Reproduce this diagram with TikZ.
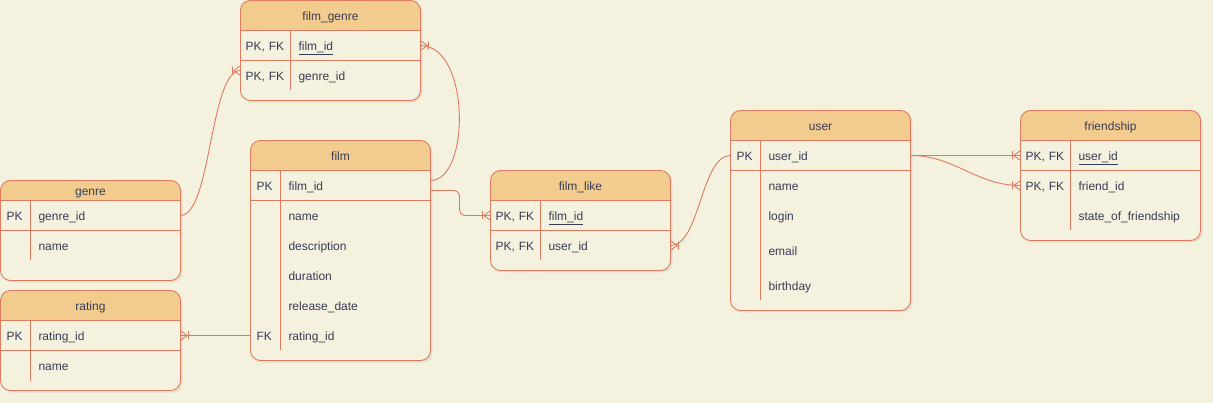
\documentclass[tikz,border=0pt]{standalone}
\usepackage{fontspec}
\setmainfont{Liberation Sans}
\usetikzlibrary{arrows.meta,positioning,shadows,decorations.markings}

\definecolor{paper}{HTML}{F4F1DE}
\definecolor{headfill}{HTML}{F2CC8F}
\definecolor{rust}{HTML}{E07A5F}
\definecolor{ink}{HTML}{393C56}

\begin{document}
\begin{tikzpicture}[
    x=1pt, y=-1pt,
    font=\fontsize{12pt}{14pt}\selectfont, text=ink,
    tbl/.style={draw=rust, fill=paper, line width=0.9pt, rounded corners=10pt,
      anchor=north west, minimum width=180pt, inner sep=0pt, outer sep=0pt,
      drop shadow={opacity=0.15, shadow xshift=2pt, shadow yshift=-2pt},
      path picture={
        \fill[headfill, sharp corners] (path picture bounding box.north west)
          rectangle ([yshift=-#1]path picture bounding box.north east);
        \draw[rust, line width=0.9pt, sharp corners]
          ([yshift=-#1]path picture bounding box.north west)
          -- ([yshift=-#1]path picture bounding box.north east);}},
    tbl/.default=30pt,
    title/.style={inner sep=0pt, text height=9.5pt, text depth=0pt},
    key/.style={anchor=north west, minimum height=30pt, text width=40pt,
      inner xsep=5pt, inner ysep=0pt, outer sep=0pt, align=left,
      text height=9.5pt, text depth=0pt},
    key short/.style={key, text width=18pt, inner xsep=6pt},
    field/.style={minimum height=30pt, text width=114pt,
      inner xsep=8pt, inner ysep=0pt, outer sep=0pt, align=left,
      text height=9.5pt, text depth=0pt},
    field long/.style={field, text width=134pt},
    grid/.style={draw=rust, line width=0.9pt},
    rel/.style={color=rust, line width=0.9pt, draw,
      postaction={decorate, decoration={markings, mark=at position 0.998 with
        {\arrow{Bar[width=8pt] Straight Barb[reversed, length=6pt, width=9pt]}}}}}
  ]
  \useasboundingbox (0,0) rectangle (1213,403);
  \fill[paper] (0,0) rectangle (1213,403);

  % film_genre
  \node[tbl, minimum height=100pt] (filmgenre) at (240.5,0.5) {};
  \node[title] (filmgenre-t) at ([yshift=-15pt]filmgenre.north) {film\_genre};
  \node[key] (fg-k1) at ([yshift=-30pt]filmgenre.north west) {PK, FK};
  \node[key, below=0pt of fg-k1] (fg-k2) {PK, FK};
  \node[field, right=0pt of fg-k1] (fg-film) {\underline{film\_id}};
  \node[field, right=0pt of fg-k2] (fg-genre) {genre\_id};
  \draw[grid] (fg-k1.south west) -- (fg-film.south east);
  \draw[grid] (fg-k1.north east) -- (fg-k2.south east);

  % genre
  \node[tbl=20pt, minimum height=100pt] (genre) at (0.5,180.5) {};
  \node[title] (genre-t) at ([yshift=-10pt]genre.north) {genre};
  \node[key short] (ge-k1) at ([yshift=-20pt]genre.north west) {PK};
  \node[key short, below=0pt of ge-k1] (ge-k2) {};
  \node[field long, right=0pt of ge-k1] (ge-id) {genre\_id};
  \node[field long, right=0pt of ge-k2] (ge-name) {name};
  \draw[grid] (ge-k1.south west) -- (ge-id.south east);
  \draw[grid] (ge-k1.north east) -- (ge-k2.south east);

  % rating
  \node[tbl, minimum height=100pt] (rating) at (0.5,290.5) {};
  \node[title] (rating-t) at ([yshift=-15pt]rating.north) {rating};
  \node[key short] (ra-k1) at ([yshift=-30pt]rating.north west) {PK};
  \node[key short, below=0pt of ra-k1] (ra-k2) {};
  \node[field long, right=0pt of ra-k1] (ra-id) {rating\_id};
  \node[field long, right=0pt of ra-k2] (ra-name) {name};
  \draw[grid] (ra-k1.south west) -- (ra-id.south east);
  \draw[grid] (ra-k1.north east) -- (ra-k2.south east);

  % film
  \node[tbl, minimum height=220pt] (film) at (250.5,140.5) {};
  \node[title] (film-t) at ([yshift=-15pt]film.north) {film};
  \node[key short] (fi-k1) at ([yshift=-30pt]film.north west) {PK};
  \node[key short, below=0pt of fi-k1] (fi-k2) {};
  \node[key short, below=0pt of fi-k2] (fi-k3) {};
  \node[key short, below=0pt of fi-k3] (fi-k4) {};
  \node[key short, below=0pt of fi-k4] (fi-k5) {};
  \node[key short, below=0pt of fi-k5] (fi-k6) {FK};
  \node[field long, right=0pt of fi-k1] (fi-id) {film\_id};
  \node[field long, right=0pt of fi-k2] (fi-name) {name};
  \node[field long, right=0pt of fi-k3] (fi-desc) {description};
  \node[field long, right=0pt of fi-k4] (fi-dur) {duration};
  \node[field long, right=0pt of fi-k5] (fi-rel) {release\_date};
  \node[field long, right=0pt of fi-k6] (fi-rating) {rating\_id};
  \draw[grid] (fi-k1.south west) -- (fi-id.south east);
  \draw[grid] (fi-k1.north east) -- (fi-k6.south east);

  % film_like
  \node[tbl, minimum height=100pt] (filmlike) at (490.5,170.5) {};
  \node[title] (filmlike-t) at ([yshift=-15pt]filmlike.north) {film\_like};
  \node[key] (fl-k1) at ([yshift=-30pt]filmlike.north west) {PK, FK};
  \node[key, below=0pt of fl-k1] (fl-k2) {PK, FK};
  \node[field, right=0pt of fl-k1] (fl-film) {\underline{film\_id}};
  \node[field, right=0pt of fl-k2] (fl-user) {user\_id};
  \draw[grid] (fl-k1.south west) -- (fl-film.south east);
  \draw[grid] (fl-k1.north east) -- (fl-k2.south east);

  % user
  \node[tbl, minimum height=200pt] (user) at (730.5,110.5) {};
  \node[title] (user-t) at ([yshift=-15pt]user.north) {user};
  \node[key short] (us-k1) at ([yshift=-30pt]user.north west) {PK};
  \node[key short, below=0pt of us-k1] (us-k2) {};
  \node[key short, below=0pt of us-k2] (us-k3) {};
  \node[key short, below=0pt of us-k3, minimum height=40pt] (us-k4) {};
  \node[key short, below=0pt of us-k4] (us-k5) {};
  \node[field long, right=0pt of us-k1] (us-id) {user\_id};
  \node[field long, right=0pt of us-k2] (us-name) {name};
  \node[field long, right=0pt of us-k3] (us-login) {login};
  \node[field long, right=0pt of us-k4, minimum height=40pt] (us-email) {email};
  \node[field long, right=0pt of us-k5] (us-birth) {birthday};
  \draw[grid] (us-k1.south west) -- (us-id.south east);
  \draw[grid] (us-k1.north east) -- (us-k5.south east);

  % friendship
  \node[tbl, minimum height=130pt] (friendship) at (1020.5,110.5) {};
  \node[title] (friendship-t) at ([yshift=-15pt]friendship.north) {friendship};
  \node[key] (fs-k1) at ([yshift=-30pt]friendship.north west) {PK, FK};
  \node[key, below=0pt of fs-k1] (fs-k2) {PK, FK};
  \node[key, below=0pt of fs-k2] (fs-k3) {};
  \node[field, right=0pt of fs-k1] (fs-user) {\underline{user\_id}};
  \node[field, right=0pt of fs-k2] (fs-friend) {friend\_id};
  \node[field, right=0pt of fs-k3] (fs-state) {state\_of\_friendship};
  \draw[grid] (fs-k1.south west) -- (fs-user.south east);
  \draw[grid] (fs-k1.north east) -- (fs-k3.south east);

  % relations
  \draw[rel] (ge-id.east) to[out=0, in=180, looseness=0.5] ([yshift=5pt]fg-k2.west);
  \draw[rel] ([yshift=5pt]fi-id.east) .. controls +(40,0) and +(50,0) .. (fg-film.east);
  \draw[rel, rounded corners=6pt] ([yshift=-5pt]fi-id.east) -- ++(29,0) |- (fl-k1.west);
  \draw[rel] (us-k1.west) to[out=180, in=0, looseness=0.7] (fl-user.east);
  \draw[rel] (fi-k6.west) -- (ra-id.east);
  \draw[rel] (us-id.east) -- (fs-k1.west);
  \draw[rel] (us-id.east) to[out=0, in=180] (fs-k2.west);
\end{tikzpicture}
\end{document}
